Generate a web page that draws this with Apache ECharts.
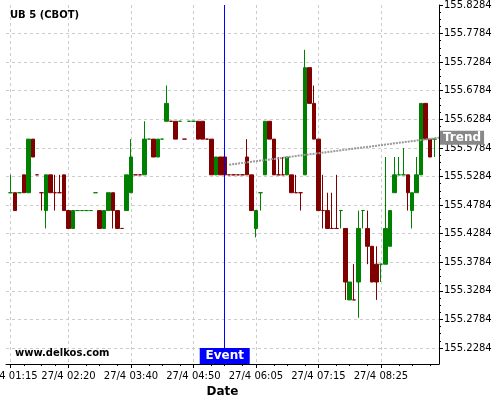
<!DOCTYPE html>
<html>
<head>
<meta charset="utf-8">
<script src="https://cdn.jsdelivr.net/npm/echarts@6/dist/echarts.min.js"></script>
<style>
    html, body { margin: 0; padding: 0; background: #fff; }
    #chart { width: 500px; height: 400px; }
</style>
</head>
<body>
<div id="chart"></div>
<script>
// 5 minute bars, 27/4 (first and last slot are empty padding)
const times = ['01:10',
    '01:15', '01:20', '01:25', '01:30', '01:35', '01:40', '01:45', '01:50', '01:55', '02:00', '02:05', '02:10', '02:15', '02:20',
    '02:25', '02:30', '02:35', '02:40', '02:45', '02:55', '03:00', '03:05', '03:10', '03:20', '03:25', '03:30', '03:35', '03:40',
    '03:45', '03:50', '03:55', '04:00', '04:05', '04:10', '04:15', '04:20', '04:25', '04:30', '04:35', '04:40', '04:45', '04:50',
    '04:55', '05:00', '05:05', '05:10', '05:15', '05:20', '05:25', '05:30', '05:35', '05:45', '05:50', '05:55', '06:00', '06:05',
    '06:10', '06:15', '06:20', '06:25', '06:30', '06:35', '06:40', '06:45', '06:50', '06:55', '07:00', '07:05', '07:10', '07:15',
    '07:20', '07:25', '07:30', '07:35', '07:40', '07:45', '07:50', '07:55', '08:00', '08:05', '08:10', '08:15', '08:20', '08:25',
    '08:30', '08:35', '08:40', '08:45', '08:50', '08:55', '09:00', '09:05', '09:10', '09:15', '09:20', '09:25',
    '09:30'];
const labelTimes = ['01:15', '02:20', '03:40', '04:50', '06:05', '07:15', '08:25'];

const opens = [
    155.5, 155.5, 155.5, 155.5313, 155.5, 155.5938, 155.5313, 155.5, 155.4688, 155.5313,
    155.5, 155.5, 155.5313, 155.4688, 155.4375, 155.4688, 155.4688, 155.4688, 155.4688, 155.5,
    155.4688, 155.4375, 155.4688, 155.5, 155.4688, 155.4375, 155.4688, 155.5, 155.5313, 155.5313,
    155.5313, 155.5938, 155.5938, 155.5625, 155.5938, 155.625, 155.625, 155.625, 155.625, 155.5938,
    155.625, 155.625, 155.625, 155.625, 155.5938, 155.5938, 155.5313, 155.5625, 155.5625, 155.5313,
    155.5313, 155.5313, 155.5313, 155.5625, 155.5313, 155.4375, 155.5, 155.5313, 155.625, 155.5938,
    155.5313, 155.5313, 155.5313, 155.5313, 155.5, 155.5, 155.5313, 155.7188, 155.6563, 155.5938,
    155.4688, 155.4688, 155.4375, 155.4375, 155.4688, 155.4375, 155.3125, 155.3125, 155.3438, 155.4688,
    155.4375, 155.4063, 155.375, 155.375, 155.375, 155.4063, 155.5, 155.5313, 155.5313, 155.5313,
    155.4688, 155.5, 155.5313, 155.6563, 155.5938, 155.5938];
const closes = [
    155.5, 155.4688, 155.5, 155.5, 155.5938, 155.5625, 155.5313, 155.5, 155.5313, 155.5,
    155.5, 155.5, 155.4688, 155.4375, 155.4688, 155.4688, 155.4688, 155.4688, 155.4688, 155.5,
    155.4375, 155.4688, 155.5, 155.4688, 155.4375, 155.4375, 155.5313, 155.5625, 155.5313, 155.5313,
    155.5938, 155.5938, 155.5625, 155.5938, 155.5938, 155.6563, 155.625, 155.5938, 155.625, 155.5938,
    155.625, 155.625, 155.5938, 155.5938, 155.5938, 155.5313, 155.5625, 155.5313, 155.5313, 155.5313,
    155.5313, 155.5313, 155.5313, 155.5313, 155.4688, 155.4688, 155.5, 155.625, 155.5938, 155.5313,
    155.5313, 155.5313, 155.5625, 155.5, 155.5, 155.5, 155.7188, 155.6563, 155.5938, 155.4688,
    155.4688, 155.4375, 155.4375, 155.4375, 155.4688, 155.3438, 155.3438, 155.3125, 155.4375, 155.4688,
    155.4063, 155.3438, 155.3438, 155.375, 155.4375, 155.4688, 155.5313, 155.5313, 155.5313, 155.5,
    155.5, 155.5313, 155.6563, 155.5938, 155.5625, 155.5938];
const lows = [
    155.5, 155.4688, 155.5, 155.5, 155.5, 155.5625, 155.5313, 155.4688, 155.4375, 155.5,
    155.4688, 155.5, 155.4688, 155.4375, 155.4375, 155.4688, 155.4688, 155.4688, 155.4688, 155.5,
    155.4375, 155.4375, 155.4688, 155.4375, 155.4375, 155.4375, 155.4688, 155.5, 155.5313, 155.5313,
    155.5313, 155.5938, 155.5625, 155.5625, 155.5938, 155.625, 155.625, 155.5938, 155.625, 155.5938,
    155.625, 155.625, 155.5938, 155.5938, 155.5938, 155.5313, 155.5313, 155.5313, 155.5313, 155.5313,
    155.5313, 155.5313, 155.5313, 155.5313, 155.4688, 155.4219, 155.4688, 155.5313, 155.5938, 155.5313,
    155.5313, 155.5313, 155.5313, 155.5, 155.5, 155.4688, 155.5313, 155.6563, 155.5938, 155.4688,
    155.4375, 155.4375, 155.4375, 155.4375, 155.4375, 155.3125, 155.3125, 155.3125, 155.2813, 155.4375,
    155.375, 155.3438, 155.3125, 155.3438, 155.375, 155.4063, 155.5, 155.5313, 155.5313, 155.4688,
    155.4375, 155.5, 155.5313, 155.5938, 155.5625, 155.5625];
const highs = [
    155.5313, 155.5, 155.5, 155.5313, 155.5938, 155.5938, 155.5313, 155.5, 155.5313, 155.5313,
    155.5313, 155.5313, 155.5313, 155.4688, 155.4688, 155.4688, 155.4688, 155.4688, 155.4688, 155.5,
    155.4688, 155.4688, 155.5, 155.5, 155.4688, 155.4375, 155.5313, 155.5938, 155.5313, 155.5313,
    155.625, 155.5938, 155.5938, 155.5938, 155.5938, 155.6875, 155.625, 155.625, 155.625, 155.5938,
    155.625, 155.625, 155.625, 155.625, 155.5938, 155.5938, 155.5625, 155.5625, 155.5625, 155.5313,
    155.5313, 155.5313, 155.5313, 155.5938, 155.5313, 155.4688, 155.5, 155.625, 155.625, 155.5938,
    155.5625, 155.5625, 155.5625, 155.5313, 155.5313, 155.5, 155.75, 155.7188, 155.6875, 155.5938,
    155.5313, 155.5, 155.5, 155.5313, 155.4688, 155.4375, 155.3438, 155.375, 155.4688, 155.4688,
    155.4688, 155.4063, 155.4063, 155.375, 155.5625, 155.4688, 155.5625, 155.5625, 155.5781, 155.5313,
    155.5, 155.5625, 155.6563, 155.6563, 155.5938, 155.5938];
// u = drawn green (up), d = drawn dark red (down)
const moves = ('u d u d u d d d u d  d d d d u u u u u u  d u u d d d u u d d  u u d u u u d d u d  ' +
               'u u d d d d u d d d  d d d d d u u u d d  d d u d d d u d d d  d d d d u d u d u u  ' +
               'd d d u u u u u u d  u u u d d u').trim().split(/\s+/);

const trendStart = ['05:30', 155.5491];
const trendEnd = ['09:30', 155.5963];
const eventTime = '05:25';

const yMin = 155.2004;
const yMax = 155.8284;

const upColor = '#008000';
const downColor = '#800000';

let candles = ['-'];
for (let i = 0; i < opens.length; i++) {
    let c = moves[i] === 'u' ? upColor : downColor;
    candles.push({
        value: [opens[i], closes[i], lows[i], highs[i]],
        itemStyle: {color: c, color0: c, borderColor: c, borderColor0: c, borderColorDoji: c}
    });
}
candles.push('-');

const font = 'DejaVu Sans';
const isLabel = function (index, value) {
    return labelTimes.indexOf(value) >= 0;
};

// minor ticks: quarters between the labelled ticks
let majorIdx = labelTimes.map(t => times.indexOf(t));
let minorIdx = {};
for (let i = 0; i < majorIdx.length - 1; i++) {
    let a = majorIdx[i], b = majorIdx[i + 1];
    for (let k = 1; k < 4; k++) minorIdx[Math.round(a + (b - a) * k / 4)] = true;
}
for (let p = majorIdx[majorIdx.length - 1] + 3.5; p < times.length; p += 3.5) minorIdx[Math.round(p)] = true;
const isMinor = function (index) {
    return minorIdx[index] === true;
};

const myChart = echarts.init(document.getElementById('chart'));
myChart.setOption({
    animation: false,
    backgroundColor: '#fff',
    textStyle: {fontFamily: font},
    title: [{
        text: 'UB 5 (CBOT)',
        left: 10,
        top: 10,
        padding: 0,
        textStyle: {fontSize: 10, fontWeight: 'bold', color: '#000', fontFamily: font}
    }, {
        text: 'www.delkos.com',
        left: 15,
        top: 348,
        padding: 0,
        textStyle: {fontSize: 10, fontWeight: 'bold', color: '#000', fontFamily: font}
    }],
    grid: [
        {left: 6, right: 61, top: 5, bottom: 36, outerBoundsMode: 'none', containLabel: false},
        {left: 6, right: 61, top: 5, bottom: 52, outerBoundsMode: 'none', containLabel: false}
    ],
    xAxis: [{
        type: 'category',
        data: times,
        boundaryGap: false,
        name: 'Date',
        nameLocation: 'middle',
        nameGap: 19,
        nameTextStyle: {fontSize: 12, fontWeight: 'bold', color: '#000', fontFamily: font},
        axisLine: {lineStyle: {color: '#000', width: 1}},
        axisTick: {interval: isLabel, length: 4, lineStyle: {color: '#000'}},
        axisLabel: {
            interval: isLabel,
            margin: 7,
            fontSize: 10,
            color: '#000',
            fontFamily: font,
            hideOverlap: false,
            formatter: function (value) {
                return '27/4 ' + value;
            }
        },
        splitLine: {show: true, interval: isLabel, lineStyle: {color: '#cccccc', type: [3, 3]}}
    }, {
        type: 'value',
        gridIndex: 1,
        min: 0,
        max: 1,
        show: false
    }, {
        // minor ticks of the date axis
        type: 'category',
        data: times,
        boundaryGap: false,
        position: 'bottom',
        axisLine: {show: false},
        axisTick: {interval: isMinor, length: 2, lineStyle: {color: '#000'}},
        axisLabel: {show: false},
        splitLine: {show: false}
    }],
    yAxis: [{
        type: 'value',
        position: 'right',
        min: yMin,
        max: yMax,
        axisLine: {show: true, onZero: false, lineStyle: {color: '#000', width: 1}},
        axisTick: {show: false},
        axisLabel: {show: false},
        splitLine: {show: false}
    }, {
        // labelled scale, its ticks start at 155.2284
        type: 'value',
        gridIndex: 1,
        position: 'right',
        min: 155.2284,
        max: yMax,
        interval: 0.05,
        axisLine: {show: false, onZero: false},
        axisTick: {show: true, length: 4, lineStyle: {color: '#000'}},
        minorTick: {show: true, splitNumber: 4, length: 2, lineStyle: {color: '#000'}},
        axisLabel: {
            margin: 5,
            fontSize: 10,
            color: '#000',
            fontFamily: font,
            formatter: function (v) {
                return v.toFixed(4);
            }
        },
        splitLine: {show: true, showMaxLine: false, lineStyle: {color: '#cccccc', type: [3, 3]}}
    }],
    series: [{
        name: 'UB 5',
        type: 'candlestick',
        data: candles,
        barWidth: 4,
        itemStyle: {borderWidth: 1},
        markLine: {
            silent: true,
            symbol: 'none',
            label: {show: false},
            lineStyle: {color: '#0000ff', width: 1, type: 'solid'},
            data: [{xAxis: eventTime}]
        },
        markPoint: {
            silent: true,
            symbol: 'rect',
            symbolSize: [50, 16],
            symbolOffset: [0, -8],
            itemStyle: {color: '#0000ff'},
            label: {
                show: true,
                position: 'inside',
                formatter: 'Event',
                color: '#fff',
                fontWeight: 'bold',
                fontSize: 12,
                fontFamily: font
            },
            data: [{coord: [eventTime, yMin]}]
        }
    }, {
        name: 'Trend',
        type: 'line',
        data: [trendStart, trendEnd],
        symbol: 'none',
        silent: true,
        clip: false,
        lineStyle: {color: '#9a9a9a', width: 2, type: [2, 1]},
        endLabel: {
            show: true,
            formatter: 'Trend',
            distance: 1,
            backgroundColor: '#888888',
            color: '#fff',
            fontWeight: 'bold',
            fontSize: 12,
            fontFamily: font,
            padding: [1, 3]
        }
    }]
});
</script>
</body>
</html>
